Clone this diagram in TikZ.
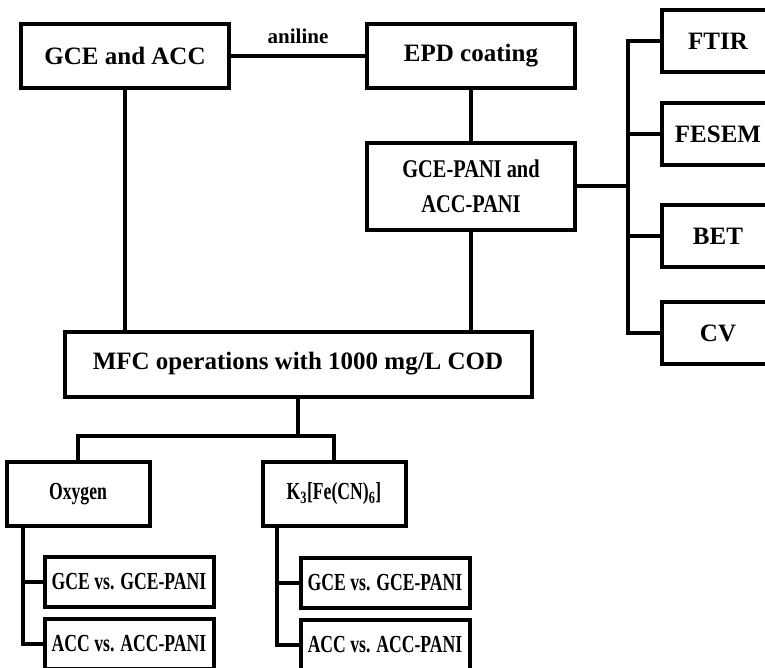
\documentclass[tikz,border=0pt]{standalone}
\usepackage{fontspec}
\setmainfont{Liberation Serif}
\newfontfamily\narrowfont[FakeStretch=0.8]{Liberation Serif}
\newfontfamily\tallfont[FakeStretch=0.72]{Liberation Serif}
\usetikzlibrary{positioning,calc}
\tikzset{
  box/.style={
    draw,
    line width=4pt,
    inner sep=0pt,
    align=center,
    font=\bfseries\fontsize{25}{30}\selectfont
  },
  stage box/.style={
    box,
    minimum width=208pt,
    minimum height=64pt
  },
  test box/.style={
    box,
    minimum width=112pt,
    minimum height=62pt
  },
  case box/.style={
    box,
    minimum width=143pt,
    minimum height=64pt,
    font=\tallfont\bfseries\fontsize{24.5}{28}\selectfont
  },
  compare box/.style={
    box,
    minimum width=169pt,
    minimum height=50pt,
    font=\tallfont\bfseries\fontsize{24.5}{28}\selectfont
  },
  link/.style={
    line width=3.5pt
  }
}

\begin{document}
\begin{tikzpicture}[x=1pt, y=-1pt]
   \path[use as bounding box, clip] (0,0) rectangle (765,667);

   \node[stage box] (gce) at (125,56) {GCE and ACC};
   \node[stage box] (epd) at (471,56) {EPD coating};
   \node[stage box, minimum height=87pt,
         font=\narrowfont\bfseries\fontsize{25.5}{35}\selectfont] (pani) at (471,186) {GCE-PANI and\\ACC-PANI};
   \node[box, minimum width=467pt, minimum height=65pt] (mfc) at (298,364) {MFC operations with 1000 mg/L COD};

   \node[test box] (ftir)  at (718,41)  {FTIR};
   \node[test box] (fesem) at (718,134) {FESEM};
   \node[test box] (bet)   at (718,236) {BET};
   \node[test box] (cv)    at (718,333) {CV};

   \node[case box] (oxy)   at (78,494)  {Oxygen};
   \node[case box] (ferri) at (334,494) {K\textsubscript{3}[Fe(CN)\textsubscript{6}]};

   \node[compare box] (ogce) at (129,582) {GCE vs. GCE-PANI};
   \node[compare box] (oacc) at (129,644) {ACC vs. ACC-PANI};
   \node[compare box] (fgce) at (385,583) {GCE vs. GCE-PANI};
   \node[compare box] (facc) at (385,645) {ACC vs. ACC-PANI};

   \coordinate (bus)    at (628,186);
   \coordinate (split)  at (298,436);
   \coordinate (ospine) at (23,0);
   \coordinate (fspine) at (277,0);

   \draw[link] (gce) -- node[above=11pt, inner sep=0pt,
         font=\bfseries\fontsize{21}{25}\selectfont] (anil) {aniline} (epd);
   \draw[link] (epd) -- (pani);
   \draw[link] (pani.south) -- (pani.south |- mfc.north);
   \draw[link] (gce.south) -- (gce.south |- mfc.north);

   \draw[link] (pani.east) -- (bus);
   \draw[link] (ftir.west) -| (bus |- cv.west) -- (cv.west);
   \foreach \t in {fesem,bet}
      \draw[link] (\t.west) -- (\t.west -| bus);

   \draw[link] (mfc.south) -- (split);
   \draw[link] (oxy.north) |- (split) -| (ferri.north);

   \draw[link] (oxy.south -| ospine) |- (oacc.west);
   \draw[link] (ogce.west) -- (ogce.west -| ospine);
   \draw[link] (ferri.south -| fspine) |- (facc.west);
   \draw[link] (fgce.west) -- (fgce.west -| fspine);
\end{tikzpicture}
\end{document}
